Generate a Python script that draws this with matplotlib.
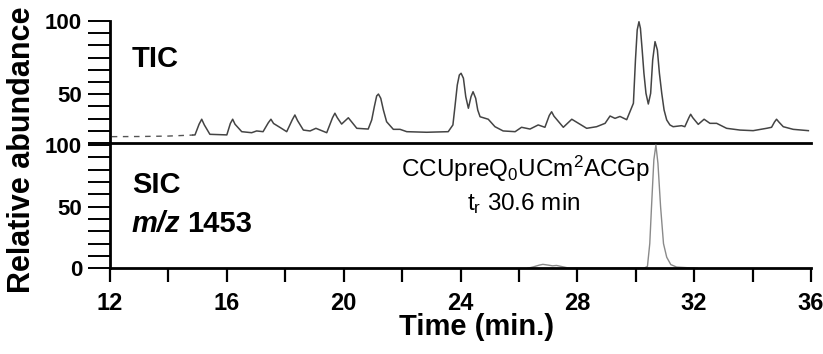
import numpy as np
import matplotlib.pyplot as plt

plt.rcParams['font.family'] = ['Liberation Sans', 'DejaVu Sans']
plt.rcParams['mathtext.fontset'] = 'custom'
plt.rcParams['mathtext.rm'] = 'Liberation Sans'
plt.rcParams['mathtext.it'] = 'Liberation Sans:italic'
plt.rcParams['mathtext.default'] = 'regular'

# TIC trace (time in min, relative abundance)
tic_time = [12.06, 13.0, 14.0, 14.84, 14.91, 15.05, 15.14, 15.23, 15.42, 16.0, 16.12, 16.20,
            16.28, 16.51, 16.85, 17.02, 17.24, 17.42, 17.51, 17.60, 17.82, 18.05, 18.24,
            18.33, 18.42, 18.62, 18.85, 19.05, 19.42, 19.62, 19.70, 19.78, 19.93, 20.16,
            20.45, 20.84, 20.96, 21.05, 21.13, 21.19, 21.27, 21.36, 21.47, 21.70, 21.93,
            22.16, 22.84, 23.58, 23.74, 23.81, 23.89, 23.96, 24.02, 24.10, 24.18, 24.27,
            24.36, 24.43, 24.52, 24.59, 24.67, 24.95, 25.18, 25.46, 25.87, 26.09, 26.38,
            26.66, 26.89, 27.04, 27.12, 27.20, 27.52, 27.81, 28.32, 28.66, 28.95, 29.12,
            29.29, 29.46, 29.69, 29.92, 29.99, 30.05, 30.11, 30.16, 30.22, 30.28, 30.35,
            30.43, 30.51, 30.58, 30.66, 30.74, 30.81, 30.89, 30.97, 31.06, 31.17, 31.28,
            31.57, 31.68, 31.82, 31.88, 31.95, 32.14, 32.34, 32.54, 32.77, 33.11, 33.57,
            34.02, 34.48, 34.65, 34.75, 34.82, 34.90, 35.05, 35.39, 35.91]
tic_abund = [21.0, 21.1, 21.4, 22.1, 22.2, 29.5, 32.9, 29.0, 22.6, 22.2, 30.0, 32.9,
             29.5, 24.4, 23.7, 24.9, 24.4, 30.5, 32.9, 30.0, 27.3, 24.4, 32.5,
             35.8, 32.0, 25.5, 24.9, 26.7, 23.7, 34.0, 37.0, 34.0, 29.6, 33.9,
             26.7, 26.2, 32.4, 41.5, 48.8, 50.1, 47.2, 39.2, 31.2, 26.0, 26.0,
             24.4, 24.0, 24.4, 29.0, 41.5, 56.3, 63.1, 64.3, 60.9, 48.3, 40.4,
             48.3, 51.7, 47.2, 39.2, 34.6, 32.9, 27.8, 24.9, 24.4, 27.4, 26.2,
             29.0, 27.4, 35.5, 38.0, 35.0, 27.4, 32.9, 26.7, 27.8, 30.1, 35.1,
             33.5, 34.8, 32.6, 43.8, 73.4, 93.9, 99.5, 95.0, 80.2, 64.3, 50.6,
             43.3, 50.6, 73.4, 85.9, 80.2, 64.3, 50.6, 39.2, 32.4, 29.0, 27.8,
             28.5, 27.8, 34.0, 36.3, 34.0, 29.4, 32.9, 30.1, 30.1, 26.7, 25.5,
             25.1, 26.7, 27.4, 31.0, 32.9, 31.0, 27.8, 26.0, 25.1]

# SIC m/z 1453 trace
sic_time = [26.30, 26.50, 26.70, 26.82, 27.00, 27.15, 27.29, 27.45, 27.68, 29.0, 30.30,
            30.40, 30.48, 30.54, 30.62, 30.69, 30.76, 30.85, 30.95, 31.06, 31.20, 31.40,
            31.90, 32.10]
sic_abund = [0.0, 1.2, 2.6, 3.2, 2.6, 2.0, 2.3, 1.5, 0.3, 0.0, 0.3,
             1.5, 20.0, 50.0, 88.0, 100.0, 85.0, 50.0, 20.0, 9.0, 3.0, 1.0,
             0.3, 0.0]

x_ticks = list(range(12, 37, 2))
x_tick_labels = [str(t) if t % 4 == 0 else '' for t in x_ticks]
tic_yticks = [100 - k * 100 / 12 for k in range(11)]
tic_ylabels = ['100', '', '', '', '', '', '50', '', '', '', '']
sic_yticks = list(range(0, 101, 10))
sic_ylabels = ['0', '', '', '', '', '50', '', '', '', '', '100']

W, H = 823, 354
fig = plt.figure(figsize=(W / 100, H / 100), dpi=100)
ax_tic = fig.add_axes([110 / W, 1 - 143 / H, 701 / W, 122 / H])
ax_sic = fig.add_axes([110 / W, 1 - 268.3 / H, 701 / W, 125.3 / H])

# TIC: sparse dashed baseline at the start, then solid
k = 4
ax_tic.plot(tic_time[:k], tic_abund[:k], color='#555555', lw=1.0, ls=(0, (4, 4)))
ax_tic.plot(tic_time[k - 1:], tic_abund[k - 1:], color='#444444', lw=1.1)
ax_tic.set_xlim(12, 36)
ax_tic.set_ylim(100 / 6, 100)
ax_tic.set_xticks([])
ax_tic.set_yticks(tic_yticks, tic_ylabels, fontweight='bold')

ax_sic.plot(sic_time, sic_abund, color='#8a8a8a', lw=1.0)
ax_sic.set_xlim(12, 36)
ax_sic.set_ylim(0, 101.6)
ax_sic.set_xticks(x_ticks, x_tick_labels, fontweight='bold')
ax_sic.set_yticks(sic_yticks, sic_ylabels, fontweight='bold')

for ax in (ax_tic, ax_sic):
    ax.patch.set_alpha(0)
    for s in ('top', 'right'):
        ax.spines[s].set_visible(False)
    for s in ('left', 'bottom'):
        ax.spines[s].set_linewidth(2)
    ax.tick_params(axis='y', direction='out', length=16, width=1.4, labelsize=16, pad=4)
ax_sic.tick_params(axis='x', direction='out', length=10, width=1.6, labelsize=17, pad=7)

fig.text(132 / W, 1 - 67 / H, 'TIC', fontsize=21, fontweight='bold', va='baseline')
fig.text(132 / W, 1 - 193 / H, 'SIC', fontsize=21, fontweight='bold', va='baseline')
fig.text(132 / W, 1 - 232 / H, 'm/z', fontsize=21, fontweight='bold', fontstyle='italic',
         va='baseline')
fig.text(187 / W, 1 - 232 / H, '1453', fontsize=21, fontweight='bold', va='baseline')

ax_sic.text(26.24, 74.0, r'CCUpreQ$_0$UCm$^2$ACGp', fontsize=17.5, ha='center', va='baseline')
ax_sic.text(26.15, 47.3, r't$_r$ 30.6 min', fontsize=17.5, ha='center', va='baseline')

fig.text(22 / W, 1 - 150 / H, 'Relative abundance', fontsize=22, fontweight='bold',
         rotation=90, ha='center', va='center')
fig.text(477 / W, 1 - 327 / H, 'Time (min.)', fontsize=21, fontweight='bold',
         ha='center', va='center')

fig.savefig('out.png', dpi=100)
